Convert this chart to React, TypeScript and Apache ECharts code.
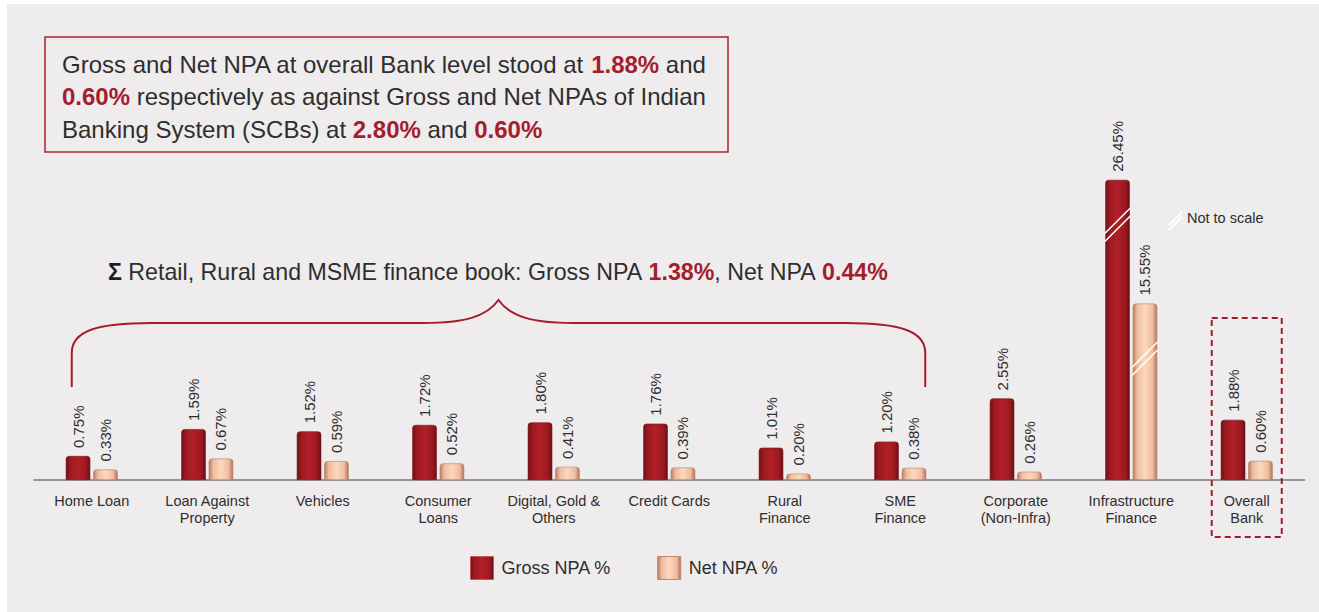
import React, { useEffect, useRef } from "react";
import * as echarts from "echarts";

// ---------- data ----------
const categories = [
  "Home Loan",
  "Loan Against\nProperty",
  "Vehicles",
  "Consumer\nLoans",
  "Digital, Gold &\nOthers",
  "Credit Cards",
  "Rural\nFinance",
  "SME\nFinance",
  "Corporate\n(Non-Infra)",
  "Infrastructure\nFinance",
  "Overall\nBank",
];
const grossNpa = [0.75, 1.59, 1.52, 1.72, 1.8, 1.76, 1.01, 1.2, 2.55, 26.45, 1.88];
const netNpa = [0.33, 0.67, 0.59, 0.52, 0.41, 0.39, 0.2, 0.38, 0.26, 15.55, 0.6];
// categories drawn on a compressed ("not to scale") axis
const notToScaleCategories = ["Infrastructure\nFinance"];
const seriesNames = ["Gross NPA %", "Net NPA %"];

const headlineLines: [string, boolean][][] = [
  [["Gross and Net NPA at overall Bank level stood at ", false], ["1.88%", true], [" and", false]],
  [["0.60%", true], [" respectively as against Gross and Net NPAs of Indian", false]],
  [["Banking System (SCBs) at ", false], ["2.80%", true], [" and ", false], ["0.60%", true]],
];
const summaryParts: [string, boolean][] = [
  [" Retail, Rural and MSME finance book: Gross NPA ", false],
  ["1.38%", true],
  [", Net NPA ", false],
  ["0.44%", true],
];
const bracedRange = ["Home Loan", "SME\nFinance"];
const highlightedCategory = "Overall\nBank";
const notToScaleNote = "Not to scale";

// ---------- styles ----------
const FONT = "Liberation Sans, Arial, sans-serif";
const TEXT = "#2e2e2e";
const RED = "#a51d2d";
const BG = "#eeeced";

const grossGrad = () =>
  new echarts.graphic.LinearGradient(0, 0, 1, 0, [
    { offset: 0, color: "#6e1016" },
    { offset: 0.18, color: "#9c1a20" },
    { offset: 0.5, color: "#b21f27" },
    { offset: 0.82, color: "#9c1a20" },
    { offset: 1, color: "#6a0f14" },
  ]);
const netGrad = () =>
  new echarts.graphic.LinearGradient(0, 0, 1, 0, [
    { offset: 0, color: "#b87b60" },
    { offset: 0.18, color: "#efbd9f" },
    { offset: 0.5, color: "#fdd8bc" },
    { offset: 0.82, color: "#efbd9f" },
    { offset: 1, color: "#b07358" },
  ]);

const BAR_W = 24.5;
const BAR_GAP = "12%";

export default function App() {
  const ref = useRef<HTMLDivElement>(null);

  useEffect(() => {
    if (!ref.current) return;
    const chart = echarts.init(ref.current, null, { renderer: "svg" });
    const broken = categories.map((c) => notToScaleCategories.includes(c));

    const label = {
      show: true,
      position: "top",
      rotate: 90,
      align: "left",
      verticalAlign: "middle",
      distance: 8,
      fontSize: 15,
      color: TEXT,
      fontFamily: FONT,
      formatter: (p: any) => Number(p.value).toFixed(2) + "%",
    };

    const mkSeries = (name: string, vals: number[], grid: number, grad: () => any, border: string) => ({
      name,
      type: "bar",
      xAxisIndex: grid,
      yAxisIndex: grid,
      barWidth: BAR_W,
      barGap: BAR_GAP,
      silent: true,
      data: vals.map((v, i) => (grid === 1 ? (broken[i] ? v : "-") : broken[i] ? "-" : v)),
      itemStyle: { color: grad(), borderRadius: [3, 3, 0, 0], borderColor: border, borderWidth: 0.6 },
      label,
    });

    const gridPos = { left: 27, right: 14.5, top: 156, bottom: 132 };

    chart.setOption({
      animation: false,
      backgroundColor: BG,
      textStyle: { fontFamily: FONT },
      grid: [gridPos, gridPos],
      xAxis: [
        {
          type: "category",
          gridIndex: 0,
          data: categories,
          axisLine: { lineStyle: { color: "#7a7a7a", width: 1.5 } },
          axisTick: { show: false },
          axisLabel: { interval: 0, fontSize: 14.5, color: TEXT, lineHeight: 17, margin: 12.5, fontFamily: FONT },
        },
        { type: "category", gridIndex: 1, data: categories, show: false },
      ],
      yAxis: [
        { type: "value", gridIndex: 0, min: 0, max: 10, show: false },
        { type: "value", gridIndex: 1, min: 0, max: 28.2, show: false },
      ],
      legend: {
        left: 463,
        top: 552,
        padding: 0,
        itemWidth: 23,
        itemHeight: 23,
        itemGap: 46,
        icon: "rect",
        selectedMode: false,
        textStyle: { fontSize: 18, color: TEXT, fontFamily: FONT, padding: [0, 0, 0, 3] },
        data: [
          { name: seriesNames[0], itemStyle: { color: grossGrad(), borderColor: "#c9575c", borderWidth: 1 } },
          { name: seriesNames[1], itemStyle: { color: netGrad(), borderColor: "#c0846a", borderWidth: 1 } },
        ],
      },
      series: [
        mkSeries(seriesNames[0], grossNpa, 0, grossGrad, "#7a1419"),
        mkSeries(seriesNames[1], netNpa, 0, netGrad, "#b98066"),
        mkSeries(seriesNames[0], grossNpa, 1, grossGrad, "#7a1419"),
        mkSeries(seriesNames[1], netNpa, 1, netGrad, "#b98066"),
      ],
    });

    // ----- decorations positioned from the chart's own scales -----
    const catX = (name: string) => (chart.convertToPixel({ gridIndex: 0 }, [categories.indexOf(name), 0]) as number[])[0];
    const baseY = (chart.convertToPixel({ gridIndex: 0 }, [0, 0]) as number[])[1];
    const half = (BAR_W + BAR_W * 0.12) / 2;

    const graphics: any[] = [];

    // headline box
    graphics.push({
      type: "rect",
      shape: { x: 38, y: 33, width: 683, height: 115 },
      style: { fill: "none", stroke: "#a8232f", lineWidth: 1.5 },
      z: 50,
    });
    const rich = {
      n: { fontSize: 24, fontFamily: FONT, fill: TEXT, color: TEXT },
      b: { fontSize: 24, fontFamily: FONT, fontWeight: "bold", fill: RED, color: RED },
      s: { fontSize: 23.2, fontFamily: FONT, fontWeight: "bold", fill: "#1e1e1e", color: "#1e1e1e" },
      m: { fontSize: 23.2, fontFamily: FONT, fill: TEXT, color: TEXT },
      r: { fontSize: 23.2, fontFamily: FONT, fontWeight: "bold", fill: RED, color: RED },
    };
    headlineLines.forEach((line, i) => {
      graphics.push({
        type: "text",
        x: 55,
        y: 60 + i * 32.5,
        z: 50,
        style: {
          text: line.map(([t, b]) => `{${b ? "b" : "n"}|${t}}`).join(""),
          rich,
          verticalAlign: "middle",
          align: "left",
        },
      });
    });

    // summary line
    graphics.push({
      type: "text",
      x: 101,
      y: 268,
      z: 50,
      style: {
        text: "{s|Σ}" + summaryParts.map(([t, b]) => `{${b ? "r" : "m"}|${t}}`).join(""),
        rich,
        verticalAlign: "middle",
        align: "left",
      },
    });

    // brace
    const L = catX(bracedRange[0]) - 20;
    const R = catX(bracedRange[1]) + 25;
    const M = (L + R) / 2;
    const yb = baseY - 93;
    const yh = 319;
    const yp = 296;
    const d =
      `M${L},${yb} L${L},${yh + 30} C${L},${yh + 8} ${L + 25},${yh} ${L + 80},${yh} ` +
      `L${M - 75},${yh} C${M - 35},${yh} ${M - 12},${yh - 6} ${M},${yp} ` +
      `C${M + 12},${yh - 6} ${M + 35},${yh} ${M + 75},${yh} ` +
      `L${R - 80},${yh} C${R - 25},${yh} ${R},${yh + 8} ${R},${yh + 30} L${R},${yb}`;
    echarts.graphic.registerShape("brace", echarts.graphic.extendPath(d, {}) as any);
    graphics.push({
      type: "brace",
      x: 0,
      y: 0,
      z: 50,
      style: { fill: "none", stroke: RED, lineWidth: 2 },
    });

    // dashed box around overall bank
    const ox = catX(highlightedCategory);
    graphics.push({
      type: "rect",
      shape: { x: ox - 35, y: baseY - 162, width: 70, height: 219 },
      style: { fill: "none", stroke: RED, lineWidth: 2, lineDash: [6, 4] },
      z: 50,
    });

    // not-to-scale slash marks on the compressed bars
    const slash = (cx: number, cy: number, w: number) => {
      [-4, 4].forEach((dy) => {
        graphics.push({
          type: "line",
          z: 100,
          shape: { x1: cx - w / 2, y1: cy + dy + w / 2, x2: cx + w / 2, y2: cy + dy - w / 2 },
          style: { stroke: "#ffffff", lineWidth: 1.5 },
        });
      });
    };
    const breakValues = [22.5, 10.7];
    notToScaleCategories.forEach((c) => {
      const idx = categories.indexOf(c);
      const gx = (chart.convertToPixel({ gridIndex: 1 }, [idx, breakValues[0]]) as number[]);
      const nx = (chart.convertToPixel({ gridIndex: 1 }, [idx, breakValues[1]]) as number[]);
      slash(gx[0] - half, gx[1], BAR_W + 1);
      slash(nx[0] + half, nx[1], BAR_W + 1);
    });

    // legend for the slash mark
    [0, 5].forEach((dy) => {
      graphics.push({
        type: "line",
        z: 100,
        shape: { x1: 1162, y1: 221 + dy, x2: 1175, y2: 208 + dy },
        style: { stroke: "#ffffff", lineWidth: 2 },
      });
    });
    graphics.push({
      type: "text",
      x: 1180,
      y: 214,
      z: 50,
      style: { text: notToScaleNote, fontSize: 14.5, fontFamily: FONT, fill: TEXT, verticalAlign: "middle" },
    });

    chart.setOption({ graphic: { elements: graphics } });

    return () => chart.dispose();
  }, []);

  return (
    <div
      ref={ref}
      style={{ position: "absolute", left: 7, top: 4, width: 1312, height: 608, background: BG }}
    />
  );
}
